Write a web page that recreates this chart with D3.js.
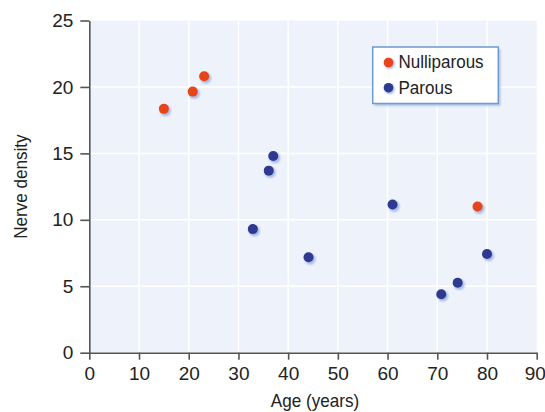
<!DOCTYPE html>
<html><head><meta charset="utf-8">
<script src="https://cdn.jsdelivr.net/npm/d3@7"></script>
<style>body{margin:0;background:#fff}svg{display:block}text{font-family:"Liberation Sans",Arial,sans-serif}</style>
</head><body>
<svg id="c" width="545" height="412"></svg>
<script>
const nulliAge = [15.0, 20.8, 23.1, 78.1];
const nulliDensity = [18.35, 19.65, 20.8, 11.0];
const parousAge = [37.0, 36.1, 32.9, 44.1, 61.0, 80.0, 74.1, 70.8];
const parousDensity = [14.8, 13.7, 9.3, 7.18, 11.15, 7.43, 5.27, 4.4];
const xTicks = [0,10,20,30,40,50,60,70,80,90];
const yTicks = [0,5,10,15,20,25];
const seriesNames = ["Nulliparous","Parous"];
const colors = ["#e8441a","#2e3990"];

const svg = d3.select("#c");
const m = {l:89.3, r:536.7, t:20.5, b:352.7};
const x = d3.scaleLinear().domain([0,90]).range([m.l,m.r]);
const y = d3.scaleLinear().domain([0,25]).range([m.b,m.t]);

const defs = svg.append("defs");
defs.append("filter").attr("id","blur").append("feGaussianBlur").attr("stdDeviation",1);

svg.append("rect").attr("x",m.l).attr("y",m.t).attr("width",m.r-m.l).attr("height",m.b-m.t).attr("fill","#eef3fb");
svg.append("g").selectAll("line").data(xTicks.slice(1,-1)).join("line")
  .attr("x1",d=>x(d)).attr("x2",d=>x(d)).attr("y1",m.t).attr("y2",m.b)
  .attr("stroke","#fff").attr("stroke-width",1.5);
svg.append("g").selectAll("line").data(yTicks.slice(1,-1)).join("line")
  .attr("y1",d=>y(d)).attr("y2",d=>y(d)).attr("x1",m.l).attr("x2",m.r)
  .attr("stroke","#fff").attr("stroke-width",1.5);

const xa = svg.append("g").attr("transform",`translate(0,${m.b})`)
  .call(d3.axisBottom(x).tickValues(xTicks).tickSize(7).tickPadding(7).tickSizeOuter(0));
const ya = svg.append("g").attr("transform",`translate(${m.l},0)`)
  .call(d3.axisLeft(y).tickValues(yTicks).tickSize(9).tickPadding(7).tickSizeOuter(0));
[xa,ya].forEach(a=>{
  a.select(".domain").attr("stroke","#555").attr("stroke-width",1.6);
  a.selectAll(".tick line").attr("stroke","#555").attr("stroke-width",1.6);
  a.selectAll(".tick text").attr("font-size",19).attr("fill","#222").attr("font-family","Liberation Sans, Arial, sans-serif");
});
xa.selectAll(".tick text").filter(d=>d===90).attr("dx",-2);

function condText(g, tx, ty, rot, anchor, size, sx, str){
  return g.append("text")
    .attr("transform",`translate(${tx},${ty}) rotate(${rot}) scale(${sx},1)`)
    .attr("text-anchor",anchor).attr("font-size",size).attr("fill","#222").text(str);
}
condText(svg,(m.l+m.r)/2+2,406.5,0,"middle",18,0.95,"Age (years)");
condText(svg,27,(m.t+m.b)/2,-90,"middle",18,0.95,"Nerve density");

function drawPts(ax, ay, col){
  const data = ax.map((a,i)=>[a,ay[i]]);
  const g = svg.append("g");
  g.selectAll("circle.s").data(data).join("circle").attr("class","s")
    .attr("cx",d=>x(d[0])+1.6).attr("cy",d=>y(d[1])+1.8).attr("r",5.4)
    .attr("fill","#98ade2").attr("opacity",0.85).attr("filter","url(#blur)");
  g.selectAll("circle.p").data(data).join("circle").attr("class","p")
    .attr("cx",d=>x(d[0])).attr("cy",d=>y(d[1])).attr("r",5).attr("fill",col);
}
drawPts(nulliAge, nulliDensity, colors[0]);
drawPts(parousAge, parousDensity, colors[1]);

// legend
const lg = svg.append("g");
lg.append("rect").attr("x",374.5).attr("y",49).attr("width",126).attr("height",57)
  .attr("fill","#b3c3e0").attr("filter","url(#blur)");
lg.append("rect").attr("x",372.7).attr("y",47).attr("width",125.6).attr("height",56.5)
  .attr("fill","#fff").attr("stroke","#6b9bd2").attr("stroke-width",1.5);
seriesNames.forEach((n,i)=>{
  const base = 68.3 + i*25.2;
  const cy = base - 5.8;
  lg.append("circle").attr("cx",389.5).attr("cy",cy+1.3).attr("r",5).attr("fill","#98ade2").attr("filter","url(#blur)");
  lg.append("circle").attr("cx",388.5).attr("cy",cy).attr("r",4.8).attr("fill",colors[i]);
  condText(lg,398.5,base,0,"start",18.5,0.92,n);
});
</script>
</body></html>
